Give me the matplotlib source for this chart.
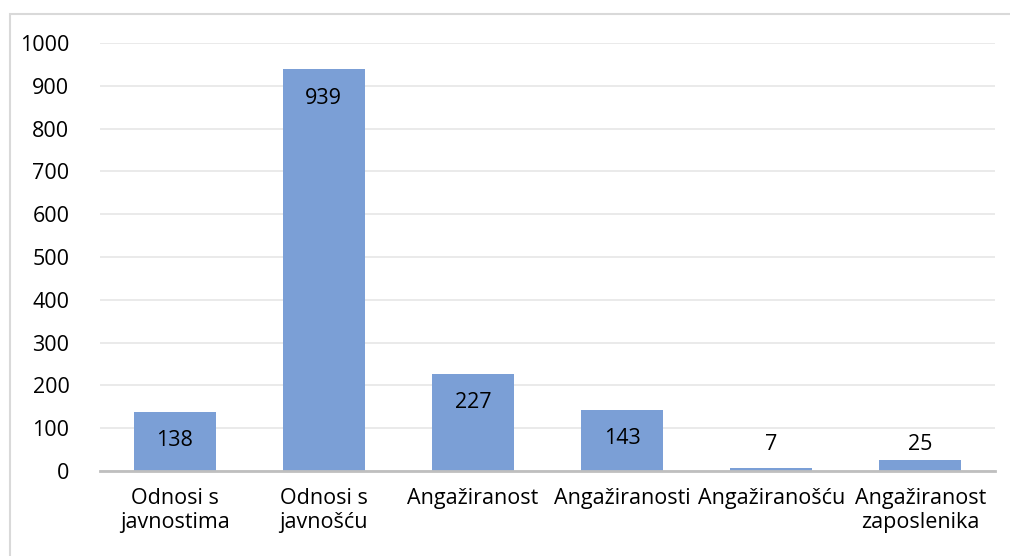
import matplotlib
matplotlib.use("Agg")
import matplotlib.pyplot as plt
from matplotlib.patches import Rectangle

categories = ["Odnosi s\njavnostima", "Odnosi s\njavnošću", "Angažiranost",
              "Angažiranosti", "Angažiranošću", "Angažiranost\nzaposlenika"]
values = [138, 939, 227, 143, 7, 25]
yticks = [0, 100, 200, 300, 400, 500, 600, 700, 800, 900, 1000]

bar_color = "#7b9fd6"
fs = 15.5
plt.rcParams["font.family"] = ["Open Sans", "DejaVu Sans"]

fig = plt.figure(figsize=(10.10, 5.56), dpi=100)
ax = fig.add_axes([100 / 1010, 1 - 471 / 556, 895 / 1010, 428 / 556])

x = list(range(len(values)))
ax.bar(x, values, width=0.55, color=bar_color, zorder=2)
ax.set_xlim(-0.5, len(values) - 0.5)
ax.set_ylim(0, 1000)
ax.set_yticks(yticks)
ax.set_yticklabels([str(t) for t in yticks], fontsize=fs)
ax.set_xticks(x)
ax.set_xticklabels(categories, fontsize=fs, linespacing=1.2, va="top")
ax.tick_params(axis="both", length=0, colors="black")
ax.tick_params(axis="y", pad=22)
ax.tick_params(axis="x", pad=12)
ax.yaxis.grid(True, color="#e6e6e6", linewidth=1.2, zorder=0)
for side in ["top", "right", "left"]:
    ax.spines[side].set_visible(False)
ax.spines["bottom"].set_color("#bfbfbf")
ax.spines["bottom"].set_linewidth(2)
ax.spines["bottom"].set_zorder(3)

# label placement: inside the bar end, or above the axis when the bar is too short
for xi, v in zip(x, values):
    if v > 80:
        ax.annotate(str(v), (xi, v), xytext=(0, -29), textcoords="offset pixels",
                    ha="center", va="center", fontsize=fs, zorder=4)
    else:
        ax.annotate(str(v), (xi, 0), xytext=(0, 26), textcoords="offset pixels",
                    ha="center", va="center", fontsize=fs, zorder=4)

fig.patches.append(Rectangle((10 / 1010, -0.1), 1.1, 1.1 - 14 / 556, transform=fig.transFigure,
                             fill=False, edgecolor="#d9d9d9", linewidth=1.5))

fig.savefig("out.png", dpi=100)
